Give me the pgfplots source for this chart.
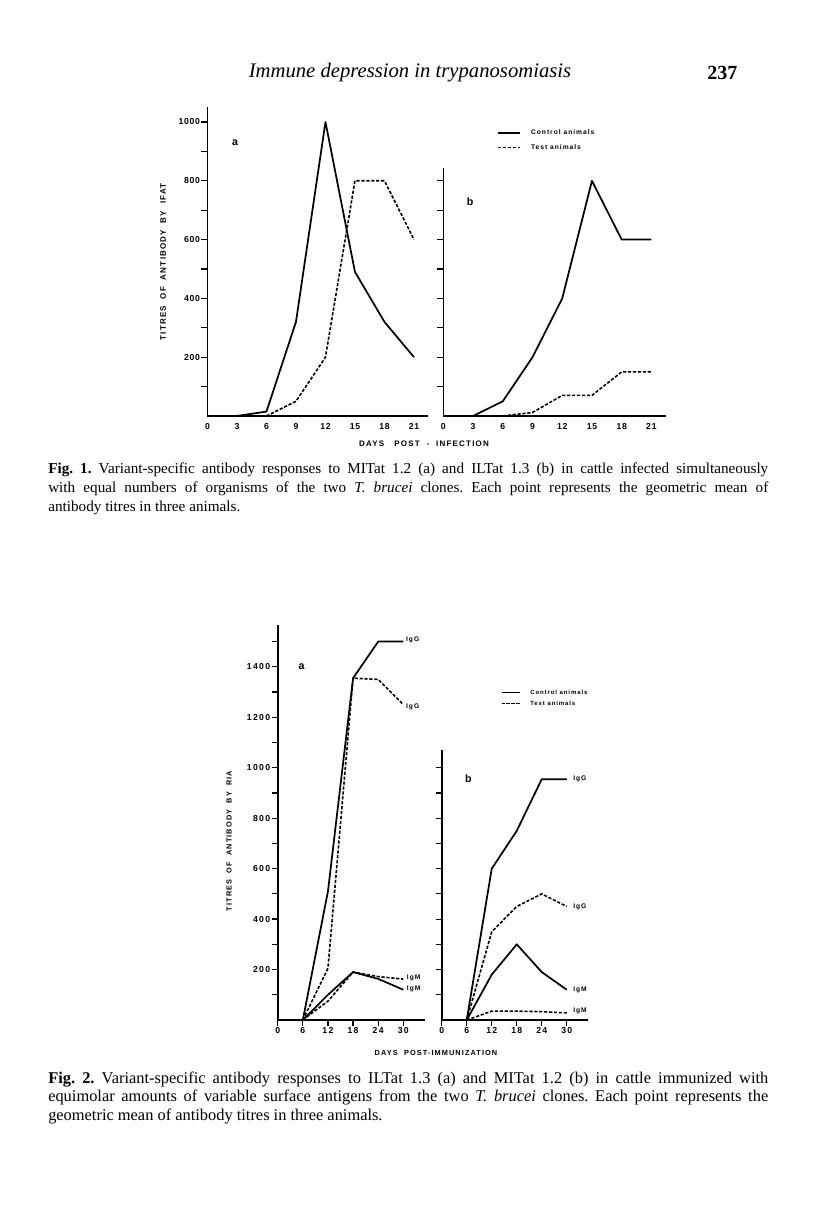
\documentclass[border=0pt]{standalone}
\usepackage{fontspec}
\setmainfont{Liberation Serif}
\setsansfont{Liberation Sans}
\newfontfamily\axfont{Liberation Sans}[LetterSpace=15]
\newfontfamily\tkfont{Liberation Sans}[LetterSpace=8]
\usepackage{pgfplots}
\pgfplotsset{compat=1.18}

\tikzset{
  ctrl/.style={black, line width=1.3pt},
  test/.style={black, line width=1.2pt, dash pattern=on 2.4pt off 1.3pt},
}
\pgfplotsset{
  pagestyle/.style={
    scale only axis, axis lines=left,
    axis line style={-, line width=1.2pt},
    clip=false, tick align=outside, major tick length=4.5pt,
    every tick/.style={black, line width=0.9pt},
    minor tick num=0,
    ticklabel style={font=\tkfont\bfseries\fontsize{6.5}{7}\selectfont, inner sep=1pt},
    /pgf/number format/assume math mode=true,
    xmin=0, ymin=0,
    every axis plot/.append style={no marks, line join=round},
    legend image code/.code={\draw[##1] (0pt,0pt) -- (16pt,0pt);},
  }
}

\begin{document}
\frenchspacing
\begin{tikzpicture}
\path[fill=white, use as bounding box] (0pt,0pt) rectangle (612pt,918pt);

% header
\node[font=\itshape\fontsize{15.5}{18}\selectfont] at (307.5pt,863.25pt) {Immune depression in trypanosomiasis};
\node[anchor=east, font=\bfseries\fontsize{15}{18}\selectfont] at (556.5pt,863.25pt) {237};

% ---------------- Fig 1a
\begin{axis}[pagestyle, at={(155.6pt,606pt)}, anchor=south west,
  width=165.2pt, height=232pt, xmax=22.4, ymax=1052,
  xtick={0,3,...,21}, xticklabels={0,3,6,9,12,15,18,21},
  ytick={100,200,...,1000}, yticklabels={,200,,400,,600,,800,,1000},
  xtick style={draw=none}]
\addplot[ctrl] coordinates {(3,0) (6,15) (9,320) (12,1000) (15,490) (18,320) (21,200)};
\addplot[test] coordinates {(6,0) (9,50) (12,200) (15,800) (18,800) (21,600)};
\node[font=\sffamily\bfseries\fontsize{8}{9}\selectfont] at (axis cs:2.8,929) {a};
\end{axis}

% ---------------- Fig 1b
\begin{axis}[pagestyle, at={(332.5pt,606pt)}, anchor=south west,
  width=167.2pt, height=186.3pt, xmax=22.5, ymax=845,
  xtick={0,3,...,21}, xticklabels={0,3,6,9,12,15,18,21},
  ytick={100,200,...,800}, yticklabels={},
  xtick style={draw=none},
  legend style={at={(0.241,1.110)}, anchor=west, draw=none, fill=none, inner sep=0pt,
    font=\axfont\bfseries\fontsize{5}{6}\selectfont, row sep=6pt,
    nodes={inner sep=0pt, text height=4pt, text depth=1pt},
    /tikz/every odd column/.style={column sep=8pt}},
  legend cell align=left]
\addplot[ctrl] coordinates {(3,0) (6,50) (9,200) (12,400) (15,800) (18,600) (21,600)};
\addlegendentry{Control animals}
\addplot[test] coordinates {(6,0) (9,12) (12,70) (15,70) (18,150) (21,150)};
\addlegendentry{Test animals}
\node[font=\sffamily\bfseries\fontsize{8}{9}\selectfont] at (axis cs:2.7,728) {b};
\end{axis}

% axis titles fig 1
\node[rotate=90, font=\axfont\bfseries\fontsize{6}{7}\selectfont] at (122.25pt,721.5pt) {TITRES~~OF~~ANTIBODY~~BY~~IFAT};
\node[font=\axfont\bfseries\fontsize{6}{7}\selectfont] at (318pt,585pt) {DAYS~~~POST~~-~~INFECTION};

% caption fig 1
\node[anchor=base west, inner sep=0pt, font=\fontsize{11.4}{13}\selectfont] at (36pt,562.5pt) {\makebox[540pt][s]{\textbf{Fig. 1.} Variant-specific antibody responses to MITat 1.2 (a) and ILTat 1.3 (b) in cattle infected simultaneously}};
\node[anchor=base west, inner sep=0pt, font=\fontsize{11.4}{13}\selectfont] at (36pt,548.25pt) {\makebox[540pt][s]{with equal numbers of organisms of the two \textit{T. brucei} clones. Each point represents the geometric mean of}};
\node[anchor=base west, inner sep=0pt, font=\fontsize{11.4}{13}\selectfont] at (36pt,534pt) {antibody titres in three animals.};

% ---------------- Fig 2a
\begin{axis}[pagestyle, at={(208.3pt,153pt)}, anchor=south west,
  width=110.5pt, height=296.1pt, xmax=35.2, ymax=1565,
  xtick={0,6,...,30}, xticklabels={0,6,12,18,24,30},
  ytick={100,200,...,1500}, yticklabels={,200,,400,,600,,800,,1000,,1200,,1400,},
  ticklabel style={font=\axfont\bfseries\fontsize{6.5}{7}\selectfont}]
\addplot[ctrl] coordinates {(6,0) (12,510) (18,1355) (24,1500) (30,1500)};
\addplot[test] coordinates {(6,0) (12,205) (18,1355) (24,1350) (30,1250)};
\addplot[ctrl] coordinates {(6,0) (12,100) (18,190) (24,163) (30,120)};
\addplot[test] coordinates {(6,0) (12,75) (18,190) (24,172) (30,162)};
\node[font=\sffamily\bfseries\fontsize{8}{9}\selectfont] at (axis cs:5.7,1400) {a};
\begin{scope}[every node/.style={anchor=west, inner sep=0pt, font=\axfont\bfseries\fontsize{5}{6}\selectfont}]
\node at (axis cs:30.6,1505) {IgG};
\node at (axis cs:30.6,1240) {IgG};
\node at (axis cs:30.8,166) {IgM};
\node at (axis cs:30.8,124) {IgM};
\end{scope}
\end{axis}

% ---------------- Fig 2b
\begin{axis}[pagestyle, at={(331.3pt,153pt)}, anchor=south west,
  width=109.4pt, height=202.4pt, xmax=35, ymax=1070,
  xtick={0,6,...,30}, xticklabels={0,6,12,18,24,30},
  ytick={100,200,...,1000}, yticklabels={},
  ticklabel style={font=\axfont\bfseries\fontsize{6.5}{7}\selectfont},
  legend style={at={(0.402,1.193)}, anchor=west, draw=none, fill=none, inner sep=0pt,
    font=\axfont\bfseries\fontsize{4.5}{5}\selectfont, row sep=4pt,
    nodes={inner sep=0pt, text height=3.5pt, text depth=0.8pt},
    /tikz/every odd column/.style={column sep=7.5pt}},
  legend cell align=left,
  legend image code/.code={\draw[#1] (0pt,0pt) -- (13.5pt,0pt);}]
\addplot[ctrl] coordinates {(6,0) (12,600) (18,750) (24,955) (30,955)};
\addlegendentry{Control animals}
\addplot[test] coordinates {(6,0) (12,350) (18,450) (24,500) (30,450)};
\addlegendentry{Test animals}
\addplot[ctrl] coordinates {(6,0) (12,180) (18,300) (24,190) (30,120)};
\addplot[test] coordinates {(6,0) (12,35) (18,35) (24,33) (30,28)};
\node[font=\sffamily\bfseries\fontsize{8}{9}\selectfont] at (axis cs:6.4,955) {b};
\begin{scope}[every node/.style={anchor=west, inner sep=0pt, font=\axfont\bfseries\fontsize{5}{6}\selectfont}]
\node at (axis cs:31.5,955) {IgG};
\node at (axis cs:31.5,449) {IgG};
\node at (axis cs:31.5,119) {IgM};
\node at (axis cs:31.5,36) {IgM};
\end{scope}
\end{axis}

% axis titles fig 2
\node[rotate=90, font=\axfont\bfseries\fontsize{5.5}{6.5}\selectfont] at (171.75pt,287.25pt) {TITRES~~OF~~ANTIBODY~~BY~~RIA};
\node[font=\axfont\bfseries\fontsize{5.5}{6.5}\selectfont] at (327pt,128.25pt) {DAYS~~POST-IMMUNIZATION};

% caption fig 2
\node[anchor=base west, inner sep=0pt, font=\fontsize{12.3}{14}\selectfont] at (36pt,105pt) {\makebox[540pt][s]{\textbf{Fig. 2.} Variant-specific antibody responses to ILTat 1.3 (a) and MITat 1.2 (b) in cattle immunized with}};
\node[anchor=base west, inner sep=0pt, font=\fontsize{12.3}{14}\selectfont] at (36pt,91.5pt) {\makebox[540pt][s]{equimolar amounts of variable surface antigens from the two \textit{T. brucei} clones. Each point represents the}};
\node[anchor=base west, inner sep=0pt, font=\fontsize{12.3}{14}\selectfont] at (36pt,77.25pt) {geometric mean of antibody titres in three animals.};
\end{tikzpicture}
\end{document}
